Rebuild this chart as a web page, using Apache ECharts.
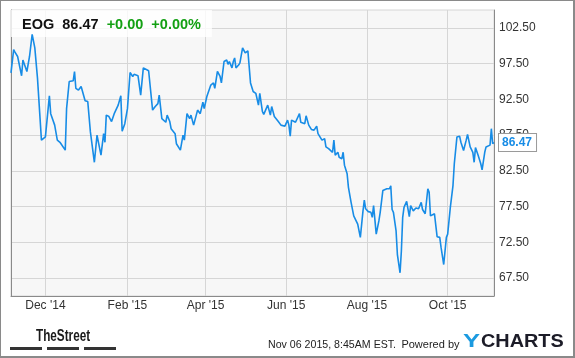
<!DOCTYPE html>
<html>
<head>
<meta charset="utf-8">
<script src="https://cdn.jsdelivr.net/npm/echarts@6/dist/echarts.min.js"></script>
<style>
html,body{margin:0;padding:0;background:#fff;}
#wrap{position:relative;width:575px;height:358px;}
#chart{position:absolute;left:0;top:0;width:575px;height:358px;}
#frame{position:absolute;left:0;top:0;width:575px;height:358px;box-sizing:border-box;
 border-left:1px solid #8a8a8a;border-top:1px solid #8a8a8a;border-right:2px solid #8a8a8a;border-bottom:2px solid #8a8a8a;pointer-events:none;}
</style>
</head>
<body>
<div id="wrap"><div id="chart"></div><div id="frame"></div></div>
<script>
const ticker = 'EOG';
const lastPrice = 86.47;
const changeTexts = ['+0.00', '+0.00%'];
const quoteTime = 'Nov 06 2015, 8:45AM EST.';

const dates = [
'2014-11-05','2014-11-07','2014-11-08','2014-11-10','2014-11-11','2014-11-13','2014-11-14','2014-11-17','2014-11-19','2014-11-21','2014-11-23','2014-11-25','2014-11-28',
'2014-12-01','2014-12-04','2014-12-05','2014-12-08','2014-12-09','2014-12-10','2014-12-12','2014-12-16','2014-12-17','2014-12-19','2014-12-22','2014-12-23','2014-12-24','2014-12-26','2014-12-28','2014-12-31',
'2015-01-02','2015-01-04','2015-01-07','2015-01-09','2015-01-12','2015-01-14','2015-01-15','2015-01-16','2015-01-18','2015-01-20','2015-01-22','2015-01-25','2015-01-27','2015-01-28','2015-01-30',
'2015-02-01','2015-02-03','2015-02-05','2015-02-06','2015-02-09','2015-02-11','2015-02-13','2015-02-17','2015-02-20','2015-02-22','2015-02-24','2015-02-25','2015-02-27',
'2015-03-02','2015-03-03','2015-03-05','2015-03-06','2015-03-09','2015-03-10','2015-03-13','2015-03-15','2015-03-16','2015-03-18','2015-03-20','2015-03-21','2015-03-23','2015-03-26','2015-03-28','2015-03-30','2015-03-31',
'2015-04-02','2015-04-05','2015-04-07','2015-04-08','2015-04-10','2015-04-12','2015-04-13','2015-04-15','2015-04-17','2015-04-18','2015-04-19','2015-04-21','2015-04-22','2015-04-23','2015-04-24','2015-04-26','2015-04-27','2015-04-29',
'2015-05-01','2015-05-03','2015-05-04','2015-05-05','2015-05-06','2015-05-07','2015-05-09','2015-05-11','2015-05-12','2015-05-14','2015-05-15','2015-05-18','2015-05-20','2015-05-21','2015-05-23','2015-05-26','2015-05-28','2015-05-31',
'2015-06-02','2015-06-03','2015-06-04','2015-06-05','2015-06-08','2015-06-09','2015-06-11','2015-06-12','2015-06-15','2015-06-16','2015-06-18','2015-06-20','2015-06-22','2015-06-24','2015-06-25','2015-06-26','2015-06-28','2015-06-30',
'2015-07-01','2015-07-03','2015-07-04','2015-07-06','2015-07-07','2015-07-08','2015-07-10','2015-07-11','2015-07-13','2015-07-14','2015-07-15','2015-07-17','2015-07-18','2015-07-20','2015-07-22','2015-07-23','2015-07-25','2015-07-27','2015-07-29','2015-07-30','2015-07-31',
'2015-08-02','2015-08-03','2015-08-04','2015-08-05','2015-08-06','2015-08-08','2015-08-10','2015-08-11','2015-08-13','2015-08-14','2015-08-16','2015-08-18','2015-08-19','2015-08-20','2015-08-21','2015-08-23','2015-08-24','2015-08-26','2015-08-27','2015-08-28','2015-08-29','2015-08-31',
'2015-09-02','2015-09-03','2015-09-05','2015-09-07','2015-09-08','2015-09-09','2015-09-11','2015-09-12','2015-09-14','2015-09-16','2015-09-17','2015-09-18','2015-09-21','2015-09-23','2015-09-25','2015-09-26','2015-09-28','2015-09-30',
'2015-10-01','2015-10-03','2015-10-05','2015-10-06','2015-10-08','2015-10-10','2015-10-11','2015-10-13','2015-10-15','2015-10-16','2015-10-18','2015-10-20','2015-10-21','2015-10-22','2015-10-24','2015-10-26','2015-10-27','2015-10-29','2015-10-30',
'2015-11-02','2015-11-03','2015-11-04','2015-11-05'
];

const prices = [
96.2, 99.45, 99.1, 98.5, 98.6, 95.8, 98.0, 96.4, 98.5, 101.6, 99.7, 95.5, 86.8,
87.25, 93.0, 90.5, 88.9, 89.1, 86.8, 86.5, 85.4, 91.2, 95.0, 95.1, 96.4, 94.05, 93.8, 94.3, 92.3,
92.2, 87.95, 83.7, 87.5, 84.7, 87.7, 86.5, 90.3, 90.1, 89.4, 90.5, 91.7, 93.0, 88.05, 89.1,
91.2, 96.25, 95.7, 96.0, 95.8, 93.1, 96.9, 96.5, 91.0, 91.5, 91.9, 93.1, 89.8,
89.3, 90.3, 89.4, 88.4, 87.7, 86.3, 85.4, 87.5, 86.8, 90.5, 89.8, 90.3, 88.9, 91.0, 90.5, 92.1, 91.2,
92.9, 94.5, 94.8, 94.05, 96.4, 95.7, 94.8, 97.8, 98.0, 97.4, 97.8, 96.9, 97.8, 98.3, 96.9, 97.3, 97.6, 99.7,
99.0, 99.3, 99.2, 94.8, 95.0, 93.6, 93.35, 91.7, 93.35, 90.8, 90.4, 91.7, 90.3, 91.5, 90.1, 89.4, 88.9, 88.75,
89.6, 88.9, 87.35, 89.6, 89.3, 89.1, 90.5, 89.3, 89.1, 90.2, 88.9, 88.3, 88.2, 88.75, 87.7, 87.95, 86.8, 87.0,
85.85, 85.6, 85.5, 85.1, 86.8, 84.7, 85.1, 84.4, 84.2, 85.1, 83.3, 82.1, 80.2, 78.1, 76.2, 76.2, 75.05, 73.2, 76.9, 78.4, 77.2,
76.8, 76.55, 76.7, 76.0, 77.65, 73.65, 75.5, 76.7, 79.75, 79.85, 80.0, 80.0, 80.4, 77.1, 76.7, 74.1, 70.8, 68.25, 71.3, 76.0, 77.4, 78.25,
76.1, 77.65, 76.9, 77.3, 77.5, 77.2, 78.1, 77.1, 76.5, 80.0, 79.5, 76.2, 76.5, 73.3, 73.2, 71.8, 69.4, 73.2,
73.65, 77.4, 80.45, 83.5, 87.25, 87.35, 86.5, 85.35, 86.8, 87.6, 85.85, 85.1, 83.7, 85.75, 84.7, 83.5, 82.65, 85.1, 85.85,
86.1, 88.4, 86.3, 86.47
];

const xRange = ['2014-11-05', '2015-11-05'];
const xTickDates = ['2014-12-01','2015-02-01','2015-04-01','2015-06-01','2015-08-01','2015-10-01'];
const xTickLabels = ["Dec '14", "Feb '15", "Apr '15", "Jun '15", "Aug '15", "Oct '15"];
const yRange = [65, 105];
const yTicks = [67.5, 72.5, 77.5, 82.5, 87.5, 92.5, 97.5, 102.5];

function ts(s) { const p = s.split('-').map(Number); return new Date(p[0], p[1] - 1, p[2]).getTime(); }
const xTickTs = xTickDates.map(ts);
const seriesData = dates.map((d, i) => [ts(d), prices[i]]);

const FONT = '"Liberation Sans", Arial, Helvetica, sans-serif';
const axisDark = '#8a8a8a';
const gridCol = '#d6d6d6';

const chart = echarts.init(document.getElementById('chart'), null, { renderer: 'canvas' });
chart.setOption({
  animation: false,
  backgroundColor: '#ffffff',
  textStyle: { fontFamily: FONT },
  title: {
    text: '{k|' + ticker + '  ' + lastPrice.toFixed(2) + '}  {g|' + changeTexts.join('  ') + '}',
    left: 11, top: 10,
    padding: [6, 11, 4, 11],
    backgroundColor: 'rgba(255,255,255,0.8)',
    z: 1,
    textStyle: {
      fontFamily: FONT, fontSize: 14.5, fontWeight: 'bold', lineHeight: 17,
      rich: {
        k: { color: '#111111', fontSize: 14.5, fontWeight: 'bold', fontFamily: FONT, lineHeight: 17 },
        g: { color: '#13a013', fontSize: 14.5, fontWeight: 'bold', fontFamily: FONT, lineHeight: 17 }
      }
    }
  },
  grid: {
    show: true, left: 11, top: 10, right: 81, bottom: 62,
    backgroundColor: '#f7f7f7', borderColor: gridCol, borderWidth: 1
  },
  xAxis: {
    type: 'value',
    min: ts(xRange[0]), max: ts(xRange[1]),
    axisLine: { show: true, onZero: false, lineStyle: { color: axisDark, width: 1 } },
    axisTick: { show: false, customValues: xTickTs },
    axisLabel: {
      customValues: xTickTs,
      formatter: function (v) {
        let best = 0, bd = Infinity;
        xTickTs.forEach((t, i) => { const dd = Math.abs(t - v); if (dd < bd) { bd = dd; best = i; } });
        return xTickLabels[best];
      },
      color: '#333333', fontSize: 12, margin: 4, fontFamily: FONT
    },
    splitLine: { show: true, lineStyle: { color: gridCol, width: 1 } }
  },
  yAxis: [{
    type: 'value', position: 'right',
    min: yRange[0], max: yRange[1],
    axisLine: { show: true, lineStyle: { color: axisDark, width: 1 } },
    axisTick: { show: false, customValues: yTicks },
    axisLabel: {
      customValues: yTicks,
      formatter: v => Number(v).toFixed(2),
      color: '#333333', fontSize: 12, margin: 5, fontFamily: FONT
    },
    splitLine: { show: true, lineStyle: { color: gridCol, width: 1 } }
  }, {
    type: 'value', position: 'left',
    min: yRange[0], max: yRange[1],
    axisLine: { show: true, lineStyle: { color: axisDark, width: 1 } },
    axisTick: { show: false },
    axisLabel: { show: false },
    splitLine: { show: false }
  }],
  series: [{
    type: 'line',
    yAxisIndex: 0,
    data: seriesData,
    showSymbol: false,
    symbol: 'none',
    lineStyle: { color: '#178ce6', width: 1.6 },
    z: 3,
    markLine: {
      silent: true,
      symbol: 'none',
      lineStyle: { color: 'rgba(0,0,0,0)', width: 0 },
      label: {
        show: true, position: 'end', distance: 5,
        formatter: lastPrice.toFixed(2),
        color: '#178ce6', fontWeight: 'bold', fontSize: 12, fontFamily: FONT,
        backgroundColor: '#ffffff', borderColor: '#9a9a9a', borderWidth: 1,
        padding: [3, 4, 2, 3]
      },
      data: [{ yAxis: lastPrice }]
    }
  }],
  graphic: [
    { type: 'text', x: 36, y: 336, scaleX: 0.69, z: 10,
      style: { text: 'TheStreet', font: 'bold 17px ' + FONT, fill: '#1a1a1a', verticalAlign: 'middle', align: 'left' } },
    { type: 'rect', shape: { x: 10, y: 347, width: 32, height: 3 }, style: { fill: '#333333' } },
    { type: 'rect', shape: { x: 47, y: 347, width: 32, height: 3 }, style: { fill: '#333333' } },
    { type: 'rect', shape: { x: 84, y: 347, width: 32, height: 3 }, style: { fill: '#333333' } },
    { type: 'text', x: 268, y: 345, scaleX: 0.965, style: { text: quoteTime, font: '11px ' + FONT, fill: '#222222', verticalAlign: 'middle', align: 'left' } },
    { type: 'text', x: 459.5, y: 345, style: { text: 'Powered by', font: '11px ' + FONT, fill: '#222222', verticalAlign: 'middle', align: 'right' } },
    { type: 'text', x: 463, y: 342, scaleX: 1.35, style: { text: 'Y', font: 'bold 19px ' + FONT, fill: '#1b9ae0', verticalAlign: 'middle', align: 'left' } },
    { type: 'text', x: 481, y: 342, scaleX: 1.045, style: { text: 'CHARTS', font: 'bold 19px ' + FONT, fill: '#1c1c28', verticalAlign: 'middle', align: 'left' } }
  ]
});
</script>
</body>
</html>
